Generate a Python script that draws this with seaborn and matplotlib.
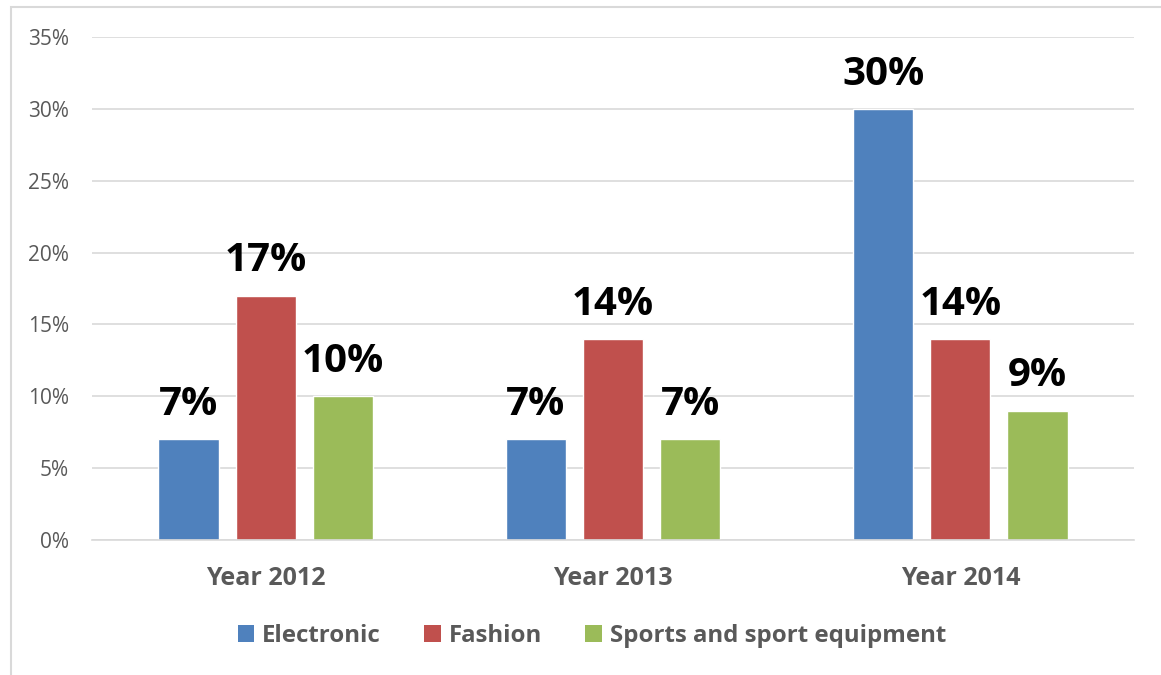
import matplotlib
matplotlib.use("Agg")
import matplotlib.pyplot as plt
from matplotlib.patches import Patch, Rectangle
from matplotlib.ticker import PercentFormatter
import seaborn as sns
import pandas as pd

years = ["Year 2012", "Year 2013", "Year 2014"]
series = ["Electronic", "Fashion", "Sports and sport equipment"]
electronic = [7, 7, 30]
fashion = [17, 14, 14]
sports = [10, 7, 9]
colors = ["#4F81BD", "#C0504D", "#9BBB59"]

df = pd.DataFrame({
    "year": years * 3,
    "series": [series[0]] * 3 + [series[1]] * 3 + [series[2]] * 3,
    "value": electronic + fashion + sports,
})

sns.set_theme(style="white")
plt.rcParams["font.family"] = ["Open Sans", "DejaVu Sans"]
BOLD = ["Open Sans", "DejaVu Sans"]

fig = plt.figure(figsize=(11.61, 6.75), dpi=100)
ax = fig.add_axes([92 / 1161, 1 - 540 / 675, (1134 - 92) / 1161, (540 - 37) / 675])

sns.barplot(data=df, x="year", y="value", hue="series", hue_order=series,
            palette=colors, width=0.666, gap=0.22, saturation=1,
            legend=False, ax=ax, errorbar=None)

ax.set_xlim(-0.5, 2.5)
ax.set_ylim(0, 35)
ax.set_yticks(range(0, 36, 5))
ax.yaxis.set_major_formatter(PercentFormatter(decimals=0))
ax.yaxis.grid(True, color="#D9D9D9", linewidth=1.2)
ax.set_axisbelow(True)
for s in ["top", "right", "left"]:
    ax.spines[s].set_visible(False)
ax.spines["bottom"].set_color("#D9D9D9")
ax.spines["bottom"].set_linewidth(1.2)
ax.set_xlabel("")
ax.set_ylabel("")
ax.tick_params(axis="y", length=0, pad=16.5, labelsize=15, labelcolor="#595959")
ax.tick_params(axis="x", length=0, pad=19, labelcolor="#595959")
ax.set_xticks(range(len(years)))
ax.set_xticklabels(years, fontsize=18, fontweight="bold", family=BOLD, color="#595959")

for cont in ax.containers:
    ax.bar_label(cont, labels=[f"{v:.0f}%" for v in cont.datavalues],
                 padding=11, fontsize=29, fontweight="bold", family=BOLD, color="black")

handles = [Patch(facecolor=c, edgecolor="none") for c in colors]
leg = fig.legend(handles, series, loc="center", bbox_to_anchor=(592 / 1161, 1 - 636 / 675),
                 ncol=3, frameon=False, handlelength=0.7, handleheight=0.7,
                 handletextpad=0.33, columnspacing=1.8,
                 prop={"size": 17.3, "weight": "bold", "family": BOLD})
for t in leg.get_texts():
    t.set_color("#595959")

# chart frame
fig.patches.append(Rectangle((11 / 1161, -0.05), 1.1, 1 - 7 / 675 + 0.05,
                             transform=fig.transFigure, fill=False,
                             edgecolor="#D9D9D9", linewidth=1.5))

fig.savefig("out.png", dpi=100)
